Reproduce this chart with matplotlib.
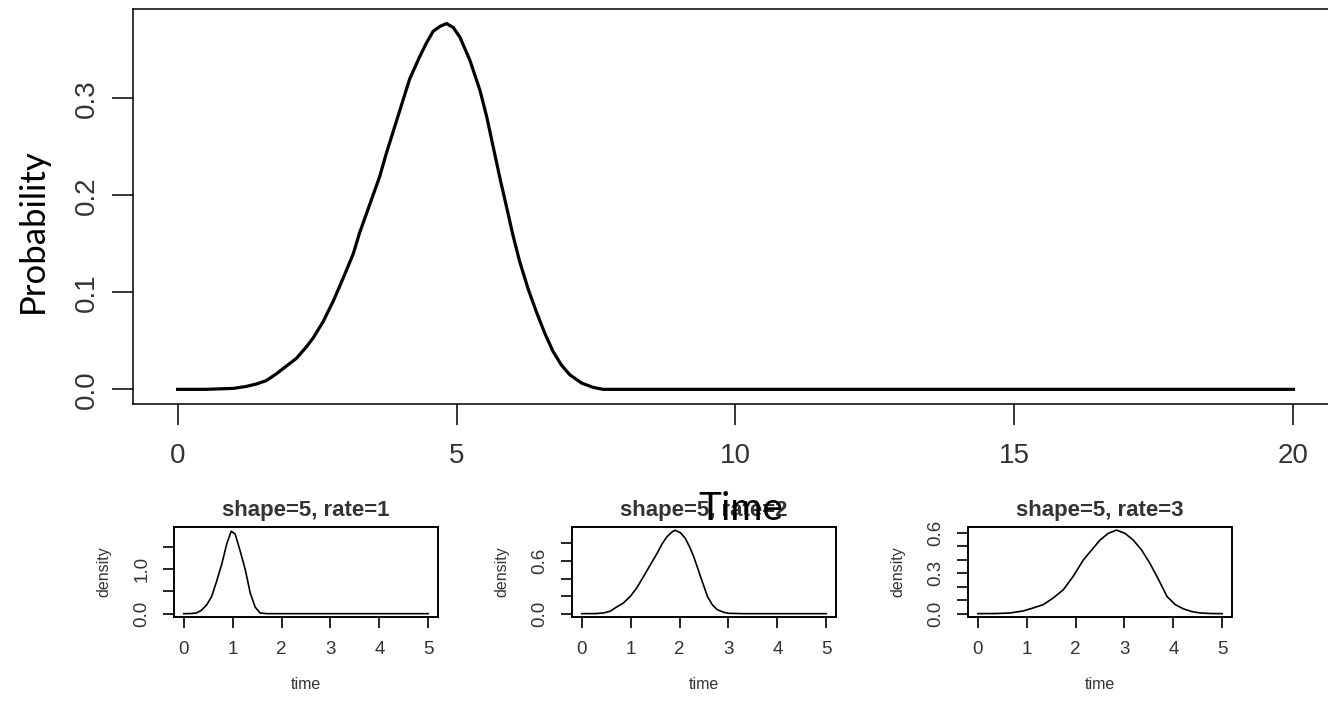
import numpy as np
import matplotlib
matplotlib.use("Agg")
import matplotlib.pyplot as plt

plt.rcParams['font.family'] = ['Liberation Sans', 'DejaVu Sans']

# main curve
main_x = [0, 0.5, 1.0, 1.23, 1.41, 1.59, 1.77, 1.95, 2.13, 2.31, 2.43, 2.61, 2.79, 2.97,
          3.15, 3.26, 3.44, 3.62, 3.74, 3.86, 4.04, 4.16, 4.34, 4.46, 4.58, 4.70, 4.82,
          4.94, 5.06, 5.24, 5.42, 5.54, 5.66, 5.78, 5.90, 6.01, 6.13, 6.28, 6.43, 6.58,
          6.73, 6.88, 7.03, 7.24, 7.45, 7.63, 10, 15, 20]
main_y = [0, 0, 0.001, 0.003, 0.0055, 0.009, 0.016, 0.024, 0.032, 0.044, 0.053, 0.070, 0.091, 0.115,
          0.140, 0.161, 0.190, 0.219, 0.243, 0.265, 0.298, 0.320, 0.343, 0.357, 0.369, 0.374, 0.377,
          0.373, 0.363, 0.339, 0.308, 0.281, 0.249, 0.217, 0.187, 0.159, 0.132, 0.104, 0.080, 0.058,
          0.039, 0.025, 0.015, 0.0065, 0.002, 0, 0, 0, 0]

# small panels
p1_x = [0, 0.15, 0.26, 0.36, 0.47, 0.57, 0.67, 0.78, 0.88, 0.97, 1.05, 1.15, 1.26, 1.36, 1.46,
        1.56, 1.7, 3, 5]
p1_y = [0, 0.002, 0.015, 0.074, 0.20, 0.385, 0.72, 1.126, 1.57, 1.85, 1.79, 1.42, 0.978, 0.459, 0.148,
        0.015, 0, 0, 0]

p2_x = [0, 0.30, 0.44, 0.58, 0.71, 0.85, 0.99, 1.12, 1.26, 1.40, 1.54, 1.64, 1.74, 1.85, 1.91,
        2.02, 2.12, 2.22, 2.29, 2.36, 2.43, 2.50, 2.57, 2.67, 2.77, 2.91, 3.01, 3.3, 5]
p2_y = [0, 0.001, 0.008, 0.027, 0.075, 0.121, 0.196, 0.29, 0.42, 0.555, 0.687, 0.793, 0.876, 0.933, 0.951,
        0.921, 0.857, 0.744, 0.65, 0.536, 0.42, 0.31, 0.196, 0.102, 0.045, 0.015, 0.004, 0, 0]

p3_x = [0, 0.40, 0.656, 0.93, 1.13, 1.34, 1.54, 1.75, 1.95, 2.16, 2.33, 2.50, 2.67, 2.84, 3.01,
        3.18, 3.35, 3.52, 3.70, 3.87, 4.04, 4.21, 4.38, 4.55, 4.75, 5]
p3_y = [0, 0.001, 0.005, 0.02, 0.042, 0.067, 0.116, 0.178, 0.277, 0.40, 0.474, 0.548, 0.598, 0.622, 0.598,
        0.548, 0.474, 0.375, 0.252, 0.128, 0.067, 0.035, 0.015, 0.005, 0.001, 0]

panels = [
    ("shape=5, rate=1", p1_x, p1_y, [0, 0.5, 1.0, 1.5], ["0.0", "", "1.0", ""], (-0.075, 1.945), 174),
    ("shape=5, rate=2", p2_x, p2_y, [0, 0.2, 0.4, 0.6, 0.8], ["0.0", "", "", "0.6", ""], (-0.038, 0.988), 572),
    ("shape=5, rate=3", p3_x, p3_y, [0, 0.1, 0.2, 0.3, 0.4, 0.5, 0.6],
     ["0.0", "", "", "0.3", "", "", "0.6"], (-0.025, 0.645), 968),
]

W, H = 1328, 703
fig = plt.figure(figsize=(W / 100, H / 100), dpi=100)

# big plot
ax = fig.add_axes([133 / W, 1 - 404 / H, (1338 - 133) / W, 395 / H])
ax.plot(main_x, main_y, color="black", lw=2.3)
ax.set_xlim(-0.8, 20.8)
ax.set_ylim(-0.0151, 0.392)
ax.set_xticks([0, 5, 10, 15, 20])
ax.set_yticks([0, 0.1, 0.2, 0.3])
ax.set_yticklabels(["0.0", "0.1", "0.2", "0.3"], rotation=90, va="center")
ax.tick_params(direction="out", length=15, width=1.1, labelsize=20, colors="black")
ax.tick_params(axis="x", pad=13)
ax.tick_params(axis="y", pad=9)
for s in ax.spines.values():
    s.set_linewidth(1.1)
for lab in ax.get_xticklabels() + ax.get_yticklabels():
    lab.set_color("#333333")

fig.text(33 / W, 1 - 231 / H, "Probability", family=["Lato", "DejaVu Sans"],
         fontsize=25, rotation=90, ha="center", va="center")

# small plots
for title, px, py, yt, ytl, ylim, left in panels:
    a = fig.add_axes([left / W, 1 - 617 / H, 264 / W, 90 / H])
    a.plot(px, py, color="black", lw=1.2)
    a.set_xlim(-0.2, 5.2)
    a.set_ylim(*ylim)
    a.set_xticks([0, 1, 2, 3, 4, 5])
    a.set_yticks(yt)
    a.set_yticklabels(ytl, rotation=90, va="center")
    a.tick_params(direction="out", length=8, width=1.2, labelsize=13.5, colors="black", pad=9)
    for s in a.spines.values():
        s.set_linewidth(1.4)
    for lab in a.get_xticklabels() + a.get_yticklabels():
        lab.set_color("#333333")
    a.set_title(title, fontsize=16, fontweight="bold", color="#333333", pad=8)
    a.set_xlabel("time", fontsize=11.5, color="#333333", labelpad=14)
    a.set_ylabel("density", fontsize=11.5, color="#333333", labelpad=16)

fig.text(741 / W, 1 - 520 / H, "Time", family=["Lato", "DejaVu Sans"],
         fontsize=28, ha="center", va="baseline")

fig.savefig("out.png", dpi=100)
